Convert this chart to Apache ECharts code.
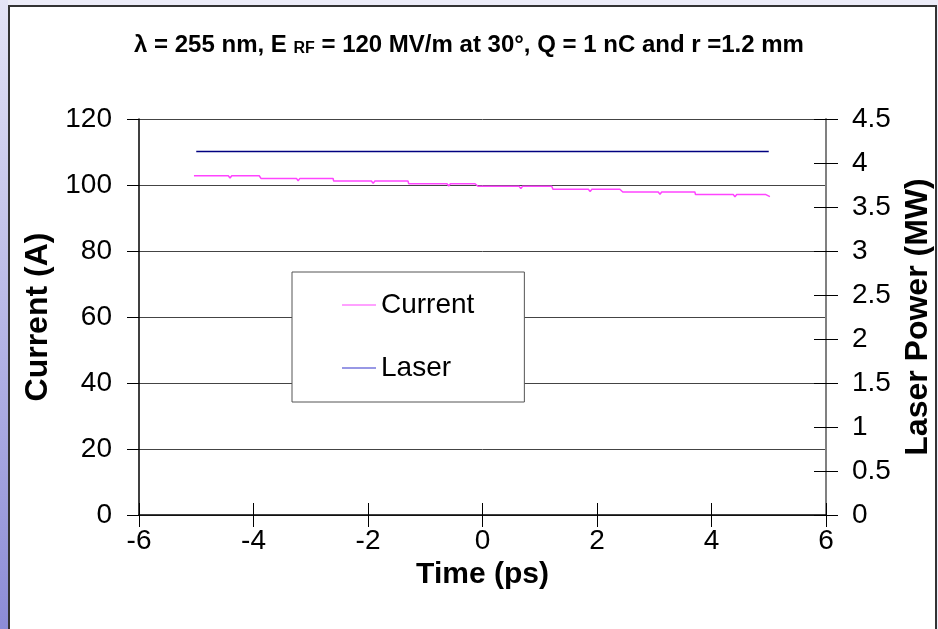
<!DOCTYPE html>
<html>
<head>
<meta charset="utf-8">
<script src="https://cdn.jsdelivr.net/npm/echarts@6/dist/echarts.min.js"></script>
<style>
	html, body { margin: 0; padding: 0; background: #fff; }
	#chart { width: 938px; height: 629px; }
</style>
</head>
<body>
<div id="chart"></div>
<script>
// axis ranges
var timeMin = -6, timeMax = 6, timeStep = 2;
var currentMin = 0, currentMax = 120, currentStep = 20;
var powerMin = 0, powerMax = 4.5, powerStep = 0.5;

// Current (A): stair steps, with the little dips
var currentTime = [-5.04, -4.44, -4.41, -4.38, -3.90, -3.87, -3.25, -3.22, -3.19, -2.61,
	-2.60, -1.94, -1.91, -1.88, -1.30, -1.29, -0.62, -0.59, -0.56, -0.13,
	-0.08, 0.64, 0.67, 0.70, 1.21, 1.23, 1.85, 1.88, 1.91, 2.40,
	2.45, 3.07, 3.10, 3.13, 3.71, 3.72, 4.38, 4.41, 4.44, 4.95, 5.02];
var currentValue = [102.8, 102.8, 102.1, 102.8, 102.8, 102.0, 102.0, 101.3, 102.0, 102.0,
	101.2, 101.2, 100.5, 101.2, 101.2, 100.4, 100.4, 99.7, 100.4, 100.4,
	99.6, 99.6, 98.9, 99.6, 99.6, 98.7, 98.7, 98.0, 98.7, 98.7,
	97.9, 97.9, 97.2, 97.9, 97.9, 97.1, 97.1, 96.4, 97.1, 97.1, 96.5];

// Laser power (MW): flat
var laserTime = [-5.0, 5.0];
var laserValue = [4.13, 4.13];

var fontFamily = '"Liberation Sans", Arial, sans-serif';

function pairs(xs, ys) {
	var out = [];
	for (var i = 0; i < xs.length; i++) {
		out.push([xs[i], ys[i]]);
	}
	return out;
}

var myChart = echarts.init(document.getElementById('chart'));

var option = {
	backgroundColor: '#ececf8',
	animation: false,
	textStyle: { fontFamily: fontFamily },
	graphic: {
		elements: [
			{
				type: 'rect', z: -10, silent: true,
				shape: { x: 0, y: 0, width: 8, height: 629 },
				style: {
					fill: new echarts.graphic.LinearGradient(0, 0, 0, 1, [
						{ offset: 0, color: '#e4e4f6' },
						{ offset: 1, color: '#8c8cd6' }
					])
				}
			},
			{
				type: 'rect', z: -9, silent: true,
				shape: { x: 9, y: 6, width: 927, height: 630 },
				style: { fill: '#fff', stroke: '#333', lineWidth: 2 }
			}
		]
	},
	title: {
		left: 'center',
		top: 28,
		text: '{a|λ = 255 nm, E }{s|RF}{a| = 120 MV/m at 30°, Q = 1 nC and r =1.2 mm}',
		textStyle: {
			rich: {
				a: { fontSize: 24, fontWeight: 'bold', color: '#000', fontFamily: fontFamily },
				s: { fontSize: 16, fontWeight: 'bold', color: '#000', fontFamily: fontFamily, padding: [8, 0, 0, 0] }
			}
		}
	},
	legend: {
		orient: 'vertical',
		left: 292,
		top: 272,
		padding: [19, 50, 20, 50],
		itemGap: 35,
		itemWidth: 34,
		itemHeight: 1,
		icon: 'rect',
		backgroundColor: '#fff',
		borderColor: '#555',
		borderWidth: 1,
		z: 10,
		textStyle: { fontSize: 28, color: '#000', lineHeight: 28, fontFamily: fontFamily },
		data: [
			{ name: 'Current', itemStyle: { color: '#ff44ff' } },
			{ name: 'Laser', itemStyle: { color: '#3333cc' } }
		]
	},
	grid: {
		left: 139,
		right: 112,
		top: 119,
		bottom: 114,
		outerBoundsMode: 'none'
	},
	xAxis: [
		{
			type: 'value',
			min: timeMin, max: timeMax, interval: timeStep,
			position: 'bottom',
			name: 'Time (ps)',
			nameLocation: 'middle',
			nameGap: 43,
			nameTextStyle: { fontSize: 30, fontWeight: 'bold', color: '#000' },
			axisLine: { onZero: false, lineStyle: { color: '#000', width: 1.5 } },
			axisTick: { length: 12, lineStyle: { color: '#000' } },
			axisLabel: { fontSize: 28, color: '#000', margin: 12 },
			splitLine: { show: false }
		},
		{
			type: 'value',
			min: timeMin, max: timeMax, interval: timeStep,
			position: 'bottom',
			axisLine: { show: false, onZero: false },
			axisTick: { inside: true, length: 12, lineStyle: { color: '#000' } },
			axisLabel: { show: false },
			splitLine: { show: false }
		}
	],
	yAxis: [
		{
			type: 'value',
			min: currentMin, max: currentMax, interval: currentStep,
			position: 'left',
			name: 'Current (A)',
			nameLocation: 'middle',
			nameRotate: 90,
			nameGap: 85,
			nameTextStyle: { fontSize: 32, fontWeight: 'bold', color: '#000' },
			axisLine: { show: true, onZero: false, lineStyle: { color: '#000', width: 1.5 } },
			axisTick: { show: true, length: 12, lineStyle: { color: '#000' } },
			axisLabel: { fontSize: 28, color: '#000', margin: 27 },
			splitLine: { show: true, lineStyle: { color: '#444', width: 1 } }
		},
		{
			type: 'value',
			min: powerMin, max: powerMax, interval: powerStep,
			position: 'right',
			name: 'Laser Power (MW)',
			nameLocation: 'middle',
			nameRotate: 90,
			nameGap: 73,
			nameTextStyle: { fontSize: 32, fontWeight: 'bold', color: '#000' },
			axisLine: { show: true, onZero: false, lineStyle: { color: '#808080', width: 2 } },
			axisTick: { show: true, length: 12, lineStyle: { color: '#000' } },
			axisLabel: { fontSize: 28, color: '#000', margin: 26 },
			splitLine: { show: false }
		},
		{
			type: 'value',
			min: powerMin, max: powerMax, interval: powerStep,
			position: 'right',
			axisLine: { show: false, onZero: false },
			axisTick: { show: true, inside: true, length: 12, lineStyle: { color: '#000' } },
			axisLabel: { show: false },
			splitLine: { show: false }
		}
	],
	series: [
		{
			name: 'Current',
			type: 'line',
			xAxisIndex: 0,
			yAxisIndex: 0,
			showSymbol: false,
			symbol: 'none',
			color: '#ff44ff',
			lineStyle: { color: '#ff44ff', width: 1.5 },
			data: pairs(currentTime, currentValue),
			z: 3
		},
		{
			name: 'Laser',
			type: 'line',
			xAxisIndex: 0,
			yAxisIndex: 1,
			showSymbol: false,
			symbol: 'none',
			color: '#000080',
			lineStyle: { color: '#000080', width: 1.5 },
			data: pairs(laserTime, laserValue),
			z: 2
		}
	]
};

myChart.setOption(option);
</script>
</body>
</html>
